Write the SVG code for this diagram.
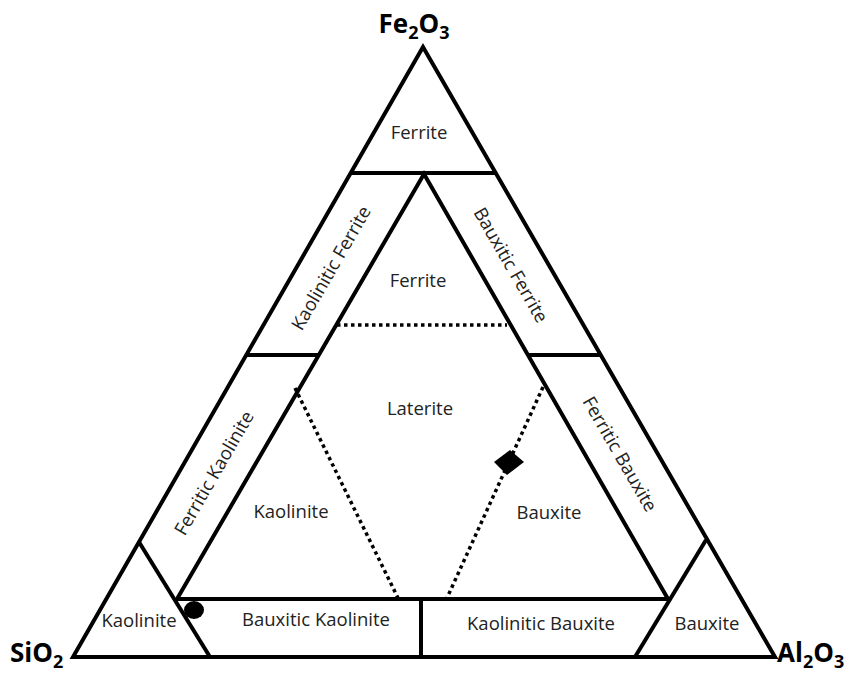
<svg xmlns="http://www.w3.org/2000/svg" width="851" height="675" viewBox="0 0 851 675">
<style>
.ln{fill:none;stroke:#000;stroke-width:4;stroke-linejoin:miter;stroke-linecap:butt}
.dot{fill:none;stroke:#000;stroke-width:3.5;stroke-dasharray:3.5 3.5}
.lb{font-family:"Open Sans","Liberation Sans",sans-serif;font-size:18.5px;fill:#222;text-anchor:middle}
.ax{font-family:"Open Sans","Liberation Sans",sans-serif;font-size:26px;font-weight:bold;fill:#000}
.sub{font-size:18px}
</style>
<rect width="851" height="675" fill="#fff"/>
<g id="connectors">
<polygon class="ln" points="423,47 73,657 775,657"/>
<polygon class="ln" points="424,174 177,599 668,599"/>
<line class="ln" x1="350.7" y1="173" x2="495.5" y2="173"/>
<line class="ln" x1="246.3" y1="355" x2="318.8" y2="355"/>
<line class="ln" x1="528.5" y1="355" x2="600.2" y2="355"/>
<line class="ln" x1="139" y1="542" x2="210" y2="657"/>
<line class="ln" x1="706" y1="540" x2="635" y2="657"/>
<line class="ln" x1="421" y1="599" x2="421" y2="655"/>
<line class="dot" x1="337" y1="325" x2="507" y2="325"/>
<line class="dot" x1="295" y1="388" x2="398" y2="598"/>
<line class="dot" x1="543" y1="387" x2="447" y2="598"/>
</g>
<g id="markers">
<polygon points="510,450 524,462 507,475 494,462" fill="#000"/>
<ellipse cx="194" cy="610" rx="10" ry="9" fill="#000"/>
</g>
<g id="axis-labels">
<text class="ax" x="414" y="33" text-anchor="middle">Fe<tspan class="sub" dy="6">2</tspan><tspan dy="-6">O</tspan><tspan class="sub" dy="6">3</tspan></text>
<text class="ax" x="10" y="662">SiO<tspan class="sub" dy="6">2</tspan></text>
<text class="ax" x="777" y="662">Al<tspan class="sub" dy="6">2</tspan><tspan dy="-6">O</tspan><tspan class="sub" dy="6">3</tspan></text>
</g>
<g id="node-top-ferrite"><text class="lb" x="419" y="139">Ferrite</text></g>
<g id="node-kaolinitic-ferrite"><text class="lb" transform="translate(331,268) rotate(-60)" y="6.5">Kaolinitic Ferrite</text></g>
<g id="node-bauxitic-ferrite"><text class="lb" transform="translate(511,265) rotate(60)" y="6.5">Bauxitic Ferrite</text></g>
<g id="node-ferritic-kaolinite"><text class="lb" transform="translate(214,473) rotate(-60)" y="6.5">Ferritic Kaolinite</text></g>
<g id="node-ferritic-bauxite"><text class="lb" transform="translate(620,454) rotate(60)" y="6.5">Ferritic Bauxite</text></g>
<g id="node-inner-ferrite"><text class="lb" x="418" y="287">Ferrite</text></g>
<g id="node-laterite"><text class="lb" x="420" y="415">Laterite</text></g>
<g id="node-inner-kaolinite"><text class="lb" x="291" y="518">Kaolinite</text></g>
<g id="node-inner-bauxite"><text class="lb" x="549" y="519">Bauxite</text></g>
<g id="node-kaolinite"><text class="lb" x="139" y="627">Kaolinite</text></g>
<g id="node-bauxitic-kaolinite"><text class="lb" x="316" y="626">Bauxitic Kaolinite</text></g>
<g id="node-kaolinitic-bauxite"><text class="lb" x="541" y="630">Kaolinitic Bauxite</text></g>
<g id="node-bauxite"><text class="lb" x="707" y="630">Bauxite</text></g>
</svg>
